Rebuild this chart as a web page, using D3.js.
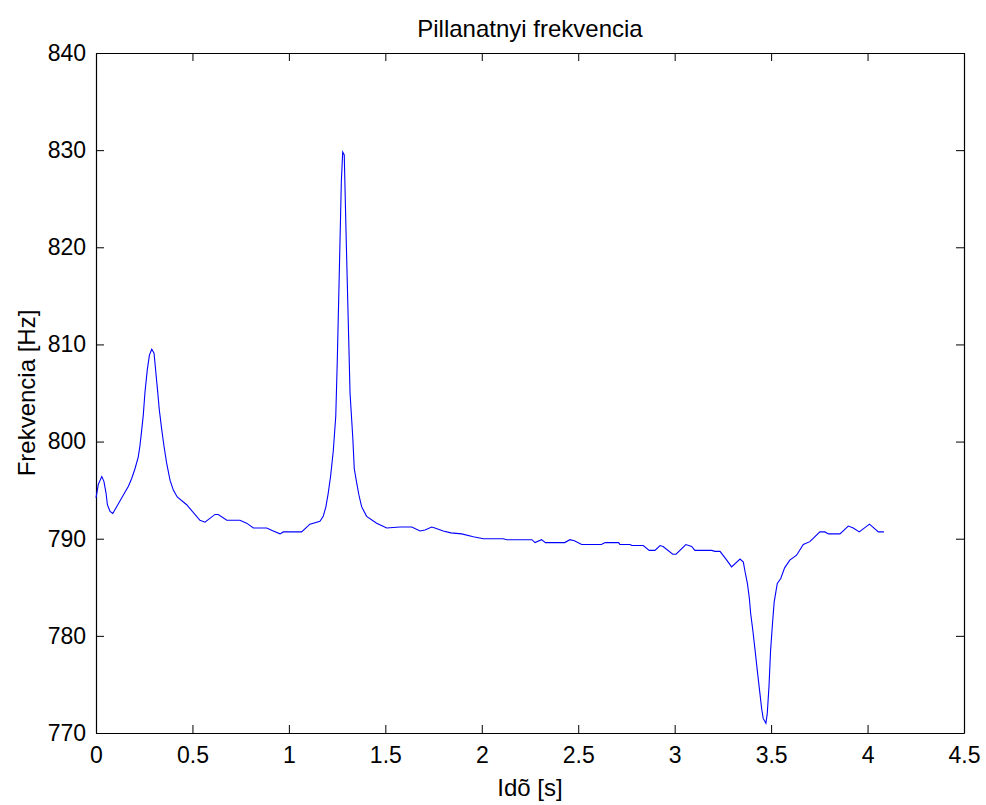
<!DOCTYPE html>
<html>
<head>
<meta charset="utf-8">
<script src="https://cdn.jsdelivr.net/npm/d3@7"></script>
<style>
  body { margin: 0; background: #fff; }
  text { font-family: "Liberation Sans", Arial, sans-serif; fill: #000; }
</style>
</head>
<body>
<svg id="chart" width="986" height="805"></svg>
<script>
// time [s] and instantaneous frequency [Hz]
let time = [0.000, 0.012, 0.030, 0.041, 0.052, 0.059, 0.073, 0.087, 0.107, 0.142,
  0.168, 0.185, 0.202, 0.219, 0.228, 0.237, 0.245, 0.254, 0.266, 0.277,
  0.289, 0.301, 0.309, 0.319, 0.328, 0.341, 0.352, 0.366, 0.384, 0.401,
  0.421, 0.470, 0.539, 0.565, 0.617, 0.634, 0.678, 0.746, 0.781, 0.816,
  0.885, 0.919, 0.954, 0.971, 1.066, 1.109, 1.161, 1.178, 1.192, 1.204,
  1.216, 1.230, 1.243, 1.251, 1.261, 1.272, 1.279, 1.287, 1.296, 1.308,
  1.317, 1.331, 1.339, 1.352, 1.363, 1.377, 1.403, 1.455, 1.507, 1.576,
  1.637, 1.680, 1.706, 1.740, 1.757, 1.800, 1.840, 1.896, 1.956, 2.008,
  2.110, 2.130, 2.260, 2.276, 2.310, 2.330, 2.430, 2.457, 2.480, 2.518,
  2.620, 2.640, 2.710, 2.716, 2.770, 2.777, 2.837, 2.868, 2.898, 2.924,
  2.940, 2.990, 3.007, 3.058, 3.088, 3.105, 3.192, 3.209, 3.235, 3.270,
  3.295, 3.339, 3.356, 3.365, 3.377, 3.387, 3.394, 3.405, 3.417, 3.428,
  3.439, 3.451, 3.459, 3.473, 3.480, 3.489, 3.497, 3.508, 3.516, 3.532,
  3.550, 3.570, 3.597, 3.632, 3.667, 3.701, 3.753, 3.779, 3.797, 3.857,
  3.900, 3.926, 3.957, 4.010, 4.056, 4.085];
let freq = [794.2, 795.6, 796.4, 795.9, 794.7, 793.5, 792.8, 792.6, 793.3, 794.5,
  795.4, 796.2, 797.2, 798.4, 799.6, 801.2, 802.7, 805.1, 807.4, 808.9,
  809.5, 809.1, 807.4, 805.3, 803.3, 801.2, 799.6, 797.8, 796.0, 795.0,
  794.3, 793.5, 791.9, 791.7, 792.5, 792.5, 791.9, 791.9, 791.6, 791.1,
  791.1, 790.8, 790.5, 790.7, 790.7, 791.5, 791.8, 792.3, 793.3, 794.7,
  796.4, 799.0, 802.6, 808.4, 817.1, 826.8, 829.8, 829.5, 821.8, 812.2,
  805.0, 800.5, 797.2, 795.7, 794.5, 793.3, 792.3, 791.6, 791.1, 791.2,
  791.2, 790.8, 790.9, 791.2, 791.1, 790.8, 790.6, 790.5, 790.2, 790.0,
  790.0, 789.9, 789.9, 789.6, 789.9, 789.6, 789.6, 789.9, 789.8, 789.4,
  789.4, 789.6, 789.6, 789.4, 789.4, 789.3, 789.3, 788.8, 788.8, 789.3,
  789.2, 788.4, 788.4, 789.4, 789.2, 788.8, 788.8, 788.7, 788.7, 787.8,
  787.1, 787.9, 787.6, 786.6, 785.4, 783.9, 782.3, 780.6, 778.5, 776.5,
  774.6, 772.5, 771.5, 771.0, 772.0, 774.8, 778.4, 781.5, 783.5, 785.4,
  785.9, 787.0, 787.8, 788.3, 789.4, 789.7, 790.7, 790.7, 790.5, 790.5,
  791.3, 791.1, 790.7, 791.5, 790.7, 790.7];

let xTicks = [0, 0.5, 1, 1.5, 2, 2.5, 3, 3.5, 4, 4.5];
let yTicks = [770, 780, 790, 800, 810, 820, 830, 840];

let mLeft = 96, mTop = 53, plotW = 868, plotH = 680;
let svg = d3.select("#chart");
let g = svg.append("g").attr("transform", `translate(${mLeft},${mTop})`);

let x = d3.scaleLinear().domain([0, 4.5]).range([0, plotW]);
let y = d3.scaleLinear().domain([770, 840]).range([plotH, 0]);

// axes (MATLAB style: ticks inside, box on all four sides)
let tickLen = 8;
g.append("g").attr("transform", `translate(0,${plotH})`)
  .call(d3.axisBottom(x).tickValues(xTicks).tickSizeInner(-tickLen).tickSizeOuter(0).tickPadding(14).tickFormat(d3.format("")))
g.append("g")
  .call(d3.axisTop(x).tickValues(xTicks).tickSizeInner(-tickLen).tickSizeOuter(0).tickFormat(""))
g.append("g")
  .call(d3.axisLeft(y).tickValues(yTicks).tickSizeInner(-tickLen).tickSizeOuter(0).tickPadding(10))
g.append("g").attr("transform", `translate(${plotW},0)`)
  .call(d3.axisRight(y).tickValues(yTicks).tickSizeInner(-tickLen).tickSizeOuter(0).tickFormat(""))

g.selectAll(".domain").attr("stroke", "#000").attr("stroke-width", 1.2)
g.selectAll(".tick line").attr("stroke", "#000")
g.selectAll(".tick text").style("font-size", "23px").style("font-family", '"Liberation Sans", Arial, sans-serif').attr("fill", "#000")

// the line
let pts = time.map((t, i) => ({t: t, f: freq[i]}))
let line = d3.line().x(d => x(d.t)).y(d => y(d.f))
g.append("path")
  .attr("d", line(pts))
  .attr("fill", "none")
  .attr("stroke", "#0000ff")
  .attr("stroke-width", 1.1)

// labels
svg.append("text").attr("x", mLeft + plotW / 2).attr("y", 37)
  .attr("text-anchor", "middle").style("font-size", "24px").text("Pillanatnyi frekvencia")
svg.append("text").attr("x", mLeft + plotW / 2).attr("y", 796)
  .attr("text-anchor", "middle").style("font-size", "24px").text("Idõ [s]")
svg.append("text").attr("transform", `translate(35,${mTop + plotH / 2}) rotate(-90)`)
  .attr("text-anchor", "middle").style("font-size", "24px").text("Frekvencia [Hz]")
</script>
</body>
</html>
